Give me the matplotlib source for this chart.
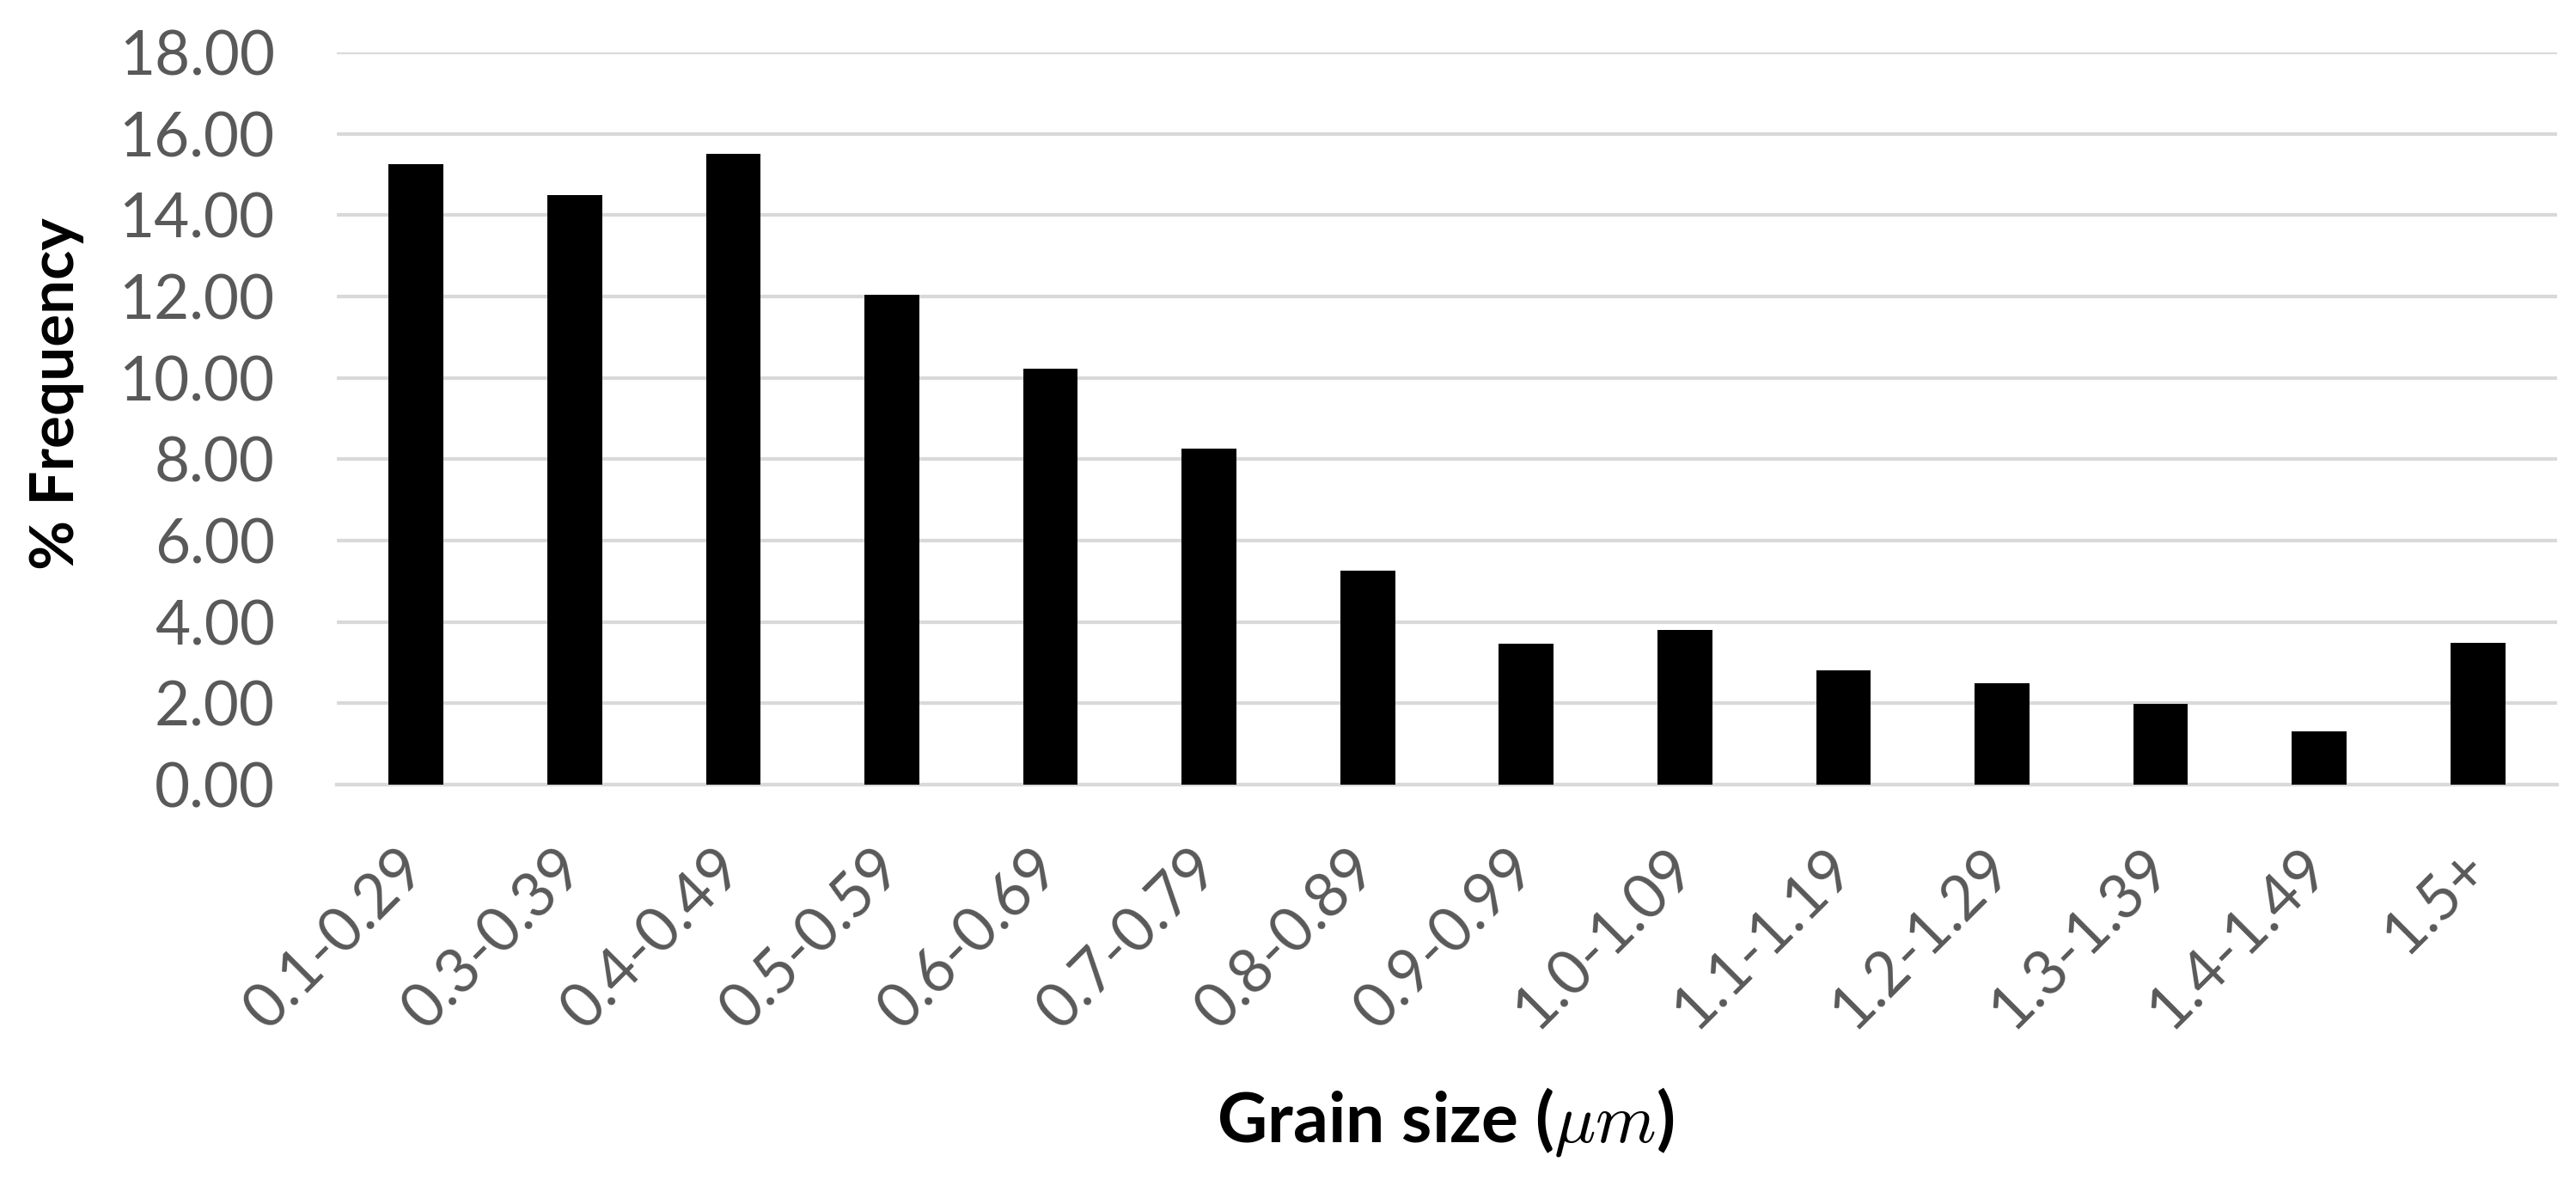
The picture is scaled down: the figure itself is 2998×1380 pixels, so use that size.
import matplotlib
matplotlib.use("Agg")
import matplotlib.pyplot as plt
import numpy as np

categories = ["0.1-0.29", "0.3-0.39", "0.4-0.49", "0.5-0.59", "0.6-0.69", "0.7-0.79",
              "0.8-0.89", "0.9-0.99", "1.0-1.09", "1.1-1.19", "1.2-1.29", "1.3-1.39",
              "1.4-1.49", "1.5+"]
frequency = [15.26, 14.50, 15.50, 12.05, 10.23, 8.26, 5.26, 3.47, 3.80, 2.82, 2.50, 1.98, 1.32, 3.48]
yticks = [0, 2, 4, 6, 8, 10, 12, 14, 16, 18]

plt.rcParams['font.family'] = ['Lato', 'DejaVu Sans']
plt.rcParams['mathtext.fontset'] = 'cm'

W, H = 2998, 1380
dpi = 200
fig = plt.figure(figsize=(W / dpi, H / dpi), dpi=dpi)
ax = fig.add_axes([392 / W, 1 - 913 / H, (2976 - 392) / W, (913 - 61) / H])

x = np.arange(len(categories))
ax.bar(x, frequency, width=0.345, color='black', zorder=3)

ax.set_xlim(-0.5, len(categories) - 0.5)
ax.set_ylim(0, 18)
ax.set_yticks(yticks)
ax.set_yticklabels([f"{v:.2f}" for v in yticks], fontsize=25.5, color='#595959')
ax.yaxis.grid(True, color='#d9d9d9', linewidth=1.5, zorder=0)
ax.set_axisbelow(True)

for s in ['top', 'right', 'left']:
    ax.spines[s].set_visible(False)
ax.spines['bottom'].set_color('#d9d9d9')
ax.spines['bottom'].set_linewidth(1.5)

ax.tick_params(axis='y', length=0, pad=26)
ax.tick_params(axis='x', length=0, pad=31)
ax.set_xticks(x)
ax.set_xticklabels(categories, rotation=45, ha='right', va='center',
                   rotation_mode='anchor', fontsize=25.5, color='#595959')

fig.text(1682 / W, 1 - 1306 / H, r'Grain size ($\mu m$)', ha='center', va='center',
         fontsize=29, fontweight='bold', color='black')
fig.text(66 / W, 1 - 458 / H, '% Frequency', rotation=90, ha='center', va='center',
         fontsize=25.5, fontweight='bold', color='black')

fig.savefig('out.png', dpi=dpi, facecolor='white')
